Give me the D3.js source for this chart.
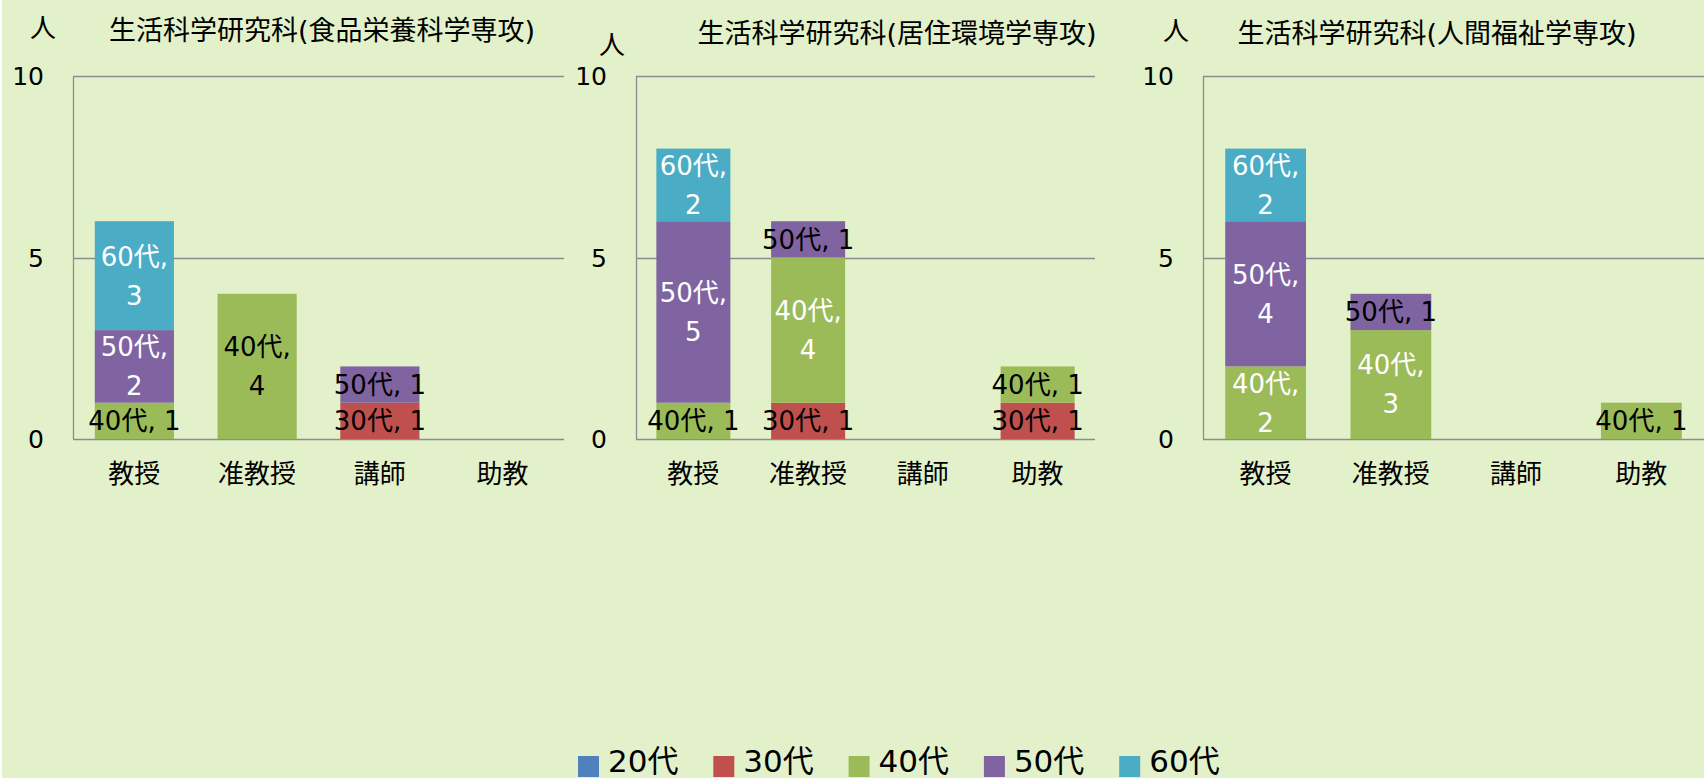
<!DOCTYPE html>
<html>
<head>
<meta charset="utf-8">
<script src="https://cdn.jsdelivr.net/npm/d3@7"></script>
<style>
  html, body { margin: 0; padding: 0; background: #fff; }
  svg { display: block; }
  text { font-family: "DejaVu Sans", "Noto Sans CJK JP", sans-serif; fill: #000; }
</style>
</head>
<body>
<div id="chart"></div>
<script>
// categories and series
const positions = ['教授', '准教授', '講師', '助教'];
const ageGroups = ['20代', '30代', '40代', '50代', '60代'];
const ageColors = ['#4F81BD', '#C0504D', '#9BBB59', '#8064A2', '#4BACC6'];
const yTicks = [0, 5, 10];

// head counts: one row per age group, one column per position
const foodCounts = [
    [0, 0, 0, 0],
    [0, 0, 1, 0],
    [1, 4, 0, 0],
    [2, 0, 1, 0],
    [3, 0, 0, 0]
];
const housingCounts = [
    [0, 0, 0, 0],
    [0, 1, 0, 1],
    [1, 4, 0, 1],
    [5, 1, 0, 0],
    [2, 0, 0, 0]
];
const welfareCounts = [
    [0, 0, 0, 0],
    [0, 0, 0, 0],
    [2, 3, 0, 1],
    [4, 1, 0, 0],
    [2, 0, 0, 0]
];

const titles = [
    '生活科学研究科(食品栄養科学専攻)',
    '生活科学研究科(居住環境学専攻)',
    '生活科学研究科(人間福祉学専攻)'
];

const width = 1704, height = 778;

// layout of each small chart
const panels = [
    { counts: foodCounts, title: titles[0], x0: 73, x1: 564, titleX: 322, titleY: 30, unitX: 43, unitY: 28, darkCells: ['2-1'] },
    { counts: housingCounts, title: titles[1], x0: 636, x1: 1095, titleX: 897, titleY: 33, unitX: 612, unitY: 45, darkCells: [] },
    { counts: welfareCounts, title: titles[2], x0: 1203, x1: 1704, titleX: 1437, titleY: 33, unitX: 1176, unitY: 31, darkCells: [] }
];

const svg = d3.select('#chart')
    .append('svg')
    .attr('width', width)
    .attr('height', height);

svg.append('rect')
    .attr('x', 2)
    .attr('width', width - 2)
    .attr('height', height)
    .attr('fill', '#E3F1CA');

const yScale = d3.scaleLinear()
    .domain([0, 10])
    .range([439, 76]);

const colorScale = d3.scaleOrdinal()
    .domain(ageGroups)
    .range(ageColors);

panels.forEach((p, pi) => {
    const g = svg.append('g').attr('class', 'panel');

    const xScale = d3.scaleBand()
        .domain(positions)
        .range([p.x0, p.x1])
        .paddingInner(0.355)
        .paddingOuter(0.1775);

    // gridlines
    g.selectAll('.grid')
        .data(yTicks)
        .join('line')
        .attr('class', 'grid')
        .attr('x1', p.x0)
        .attr('x2', p.x1)
        .attr('y1', d => Math.round(yScale(d)) + 0.5)
        .attr('y2', d => Math.round(yScale(d)) + 0.5)
        .attr('stroke', '#8C8C8C')
        .attr('stroke-width', 1.3);

    g.append('line')
        .attr('x1', p.x0 + 0.5)
        .attr('x2', p.x0 + 0.5)
        .attr('y1', yScale(10))
        .attr('y2', yScale(0))
        .attr('stroke', '#8C8C8C')
        .attr('stroke-width', 1.3);

    // y tick labels
    g.selectAll('.ytick')
        .data(yTicks)
        .join('text')
        .attr('class', 'ytick')
        .attr('x', p.x0 - 29)
        .attr('y', d => yScale(d))
        .attr('dy', '0.36em')
        .attr('text-anchor', 'end')
        .style('font-size', '25px')
        .text(d => d);

    // category labels
    g.selectAll('.xtick')
        .data(positions)
        .join('text')
        .attr('class', 'xtick')
        .attr('x', d => xScale(d) + xScale.bandwidth() / 2)
        .attr('y', 474)
        .attr('dy', '0.36em')
        .attr('text-anchor', 'middle')
        .style('font-size', '26px')
        .text(d => d);

    // stack the age groups
    const rows = positions.map((pos, ci) => {
        const r = { pos };
        ageGroups.forEach((a, ai) => { r[a] = p.counts[ai][ci]; });
        return r;
    });
    const stacked = d3.stack().keys(ageGroups)(rows);

    const layers = g.selectAll('.layer')
        .data(stacked)
        .join('g')
        .attr('class', 'layer')
        .attr('fill', d => colorScale(d.key));

    layers.selectAll('rect')
        .data(d => d.map((s, ci) => ({ key: d.key, ai: d.index, ci, y0: s[0], y1: s[1], pos: s.data.pos })))
        .join('rect')
        .filter(d => d.y1 > d.y0)
        .attr('x', d => xScale(d.pos))
        .attr('width', xScale.bandwidth())
        .attr('y', d => yScale(d.y1))
        .attr('height', d => yScale(d.y0) - yScale(d.y1));

    // data labels
    const cells = [];
    stacked.forEach(layer => {
        layer.forEach((s, ci) => {
            const v = s[1] - s[0];
            if (v > 0) cells.push({ key: layer.key, ai: layer.index, ci, v, mid: (s[0] + s[1]) / 2, pos: s.data.pos });
        });
    });

    const labels = g.selectAll('.dlabel')
        .data(cells)
        .join('text')
        .attr('class', 'dlabel')
        .attr('text-anchor', 'middle')
        .style('font-size', '26px')
        .style('fill', d => (d.v >= 2 && !p.darkCells.includes(`${d.ai}-${d.ci}`)) ? '#fff' : '#000');

    labels.each(function (d) {
        const t = d3.select(this);
        const cx = xScale(d.pos) + xScale.bandwidth() / 2;
        const cy = yScale(d.mid);
        if (d.v >= 2) {
            t.append('tspan').attr('x', cx).attr('y', cy - 19.5).attr('dy', '0.36em').text(`${d.key},`);
            t.append('tspan').attr('x', cx).attr('y', cy + 19.5).attr('dy', '0.36em').text(d.v);
        } else {
            t.append('tspan').attr('x', cx).attr('y', cy).attr('dy', '0.36em').text(`${d.key}, ${d.v}`);
        }
    });

    // titles
    g.append('text')
        .attr('x', p.titleX)
        .attr('y', p.titleY)
        .attr('dy', '0.36em')
        .attr('text-anchor', 'middle')
        .style('font-size', '27px')
        .text(p.title);

    g.append('text')
        .attr('x', p.unitX)
        .attr('y', p.unitY)
        .attr('dy', '0.36em')
        .attr('text-anchor', 'middle')
        .style('font-size', '26px')
        .text('人');
});

// legend
const legend = svg.append('g')
    .attr('class', 'legend')
    .selectAll('g')
    .data(ageGroups)
    .join('g')
    .attr('transform', (d, i) => `translate(${578 + i * 135.3}, 0)`);

legend.append('rect')
    .attr('y', 756)
    .attr('width', 21)
    .attr('height', 21)
    .attr('fill', d => colorScale(d));

legend.append('text')
    .attr('x', 30)
    .attr('y', 761)
    .attr('dy', '0.36em')
    .style('font-size', '31px')
    .text(d => d);
</script>
</body>
</html>
